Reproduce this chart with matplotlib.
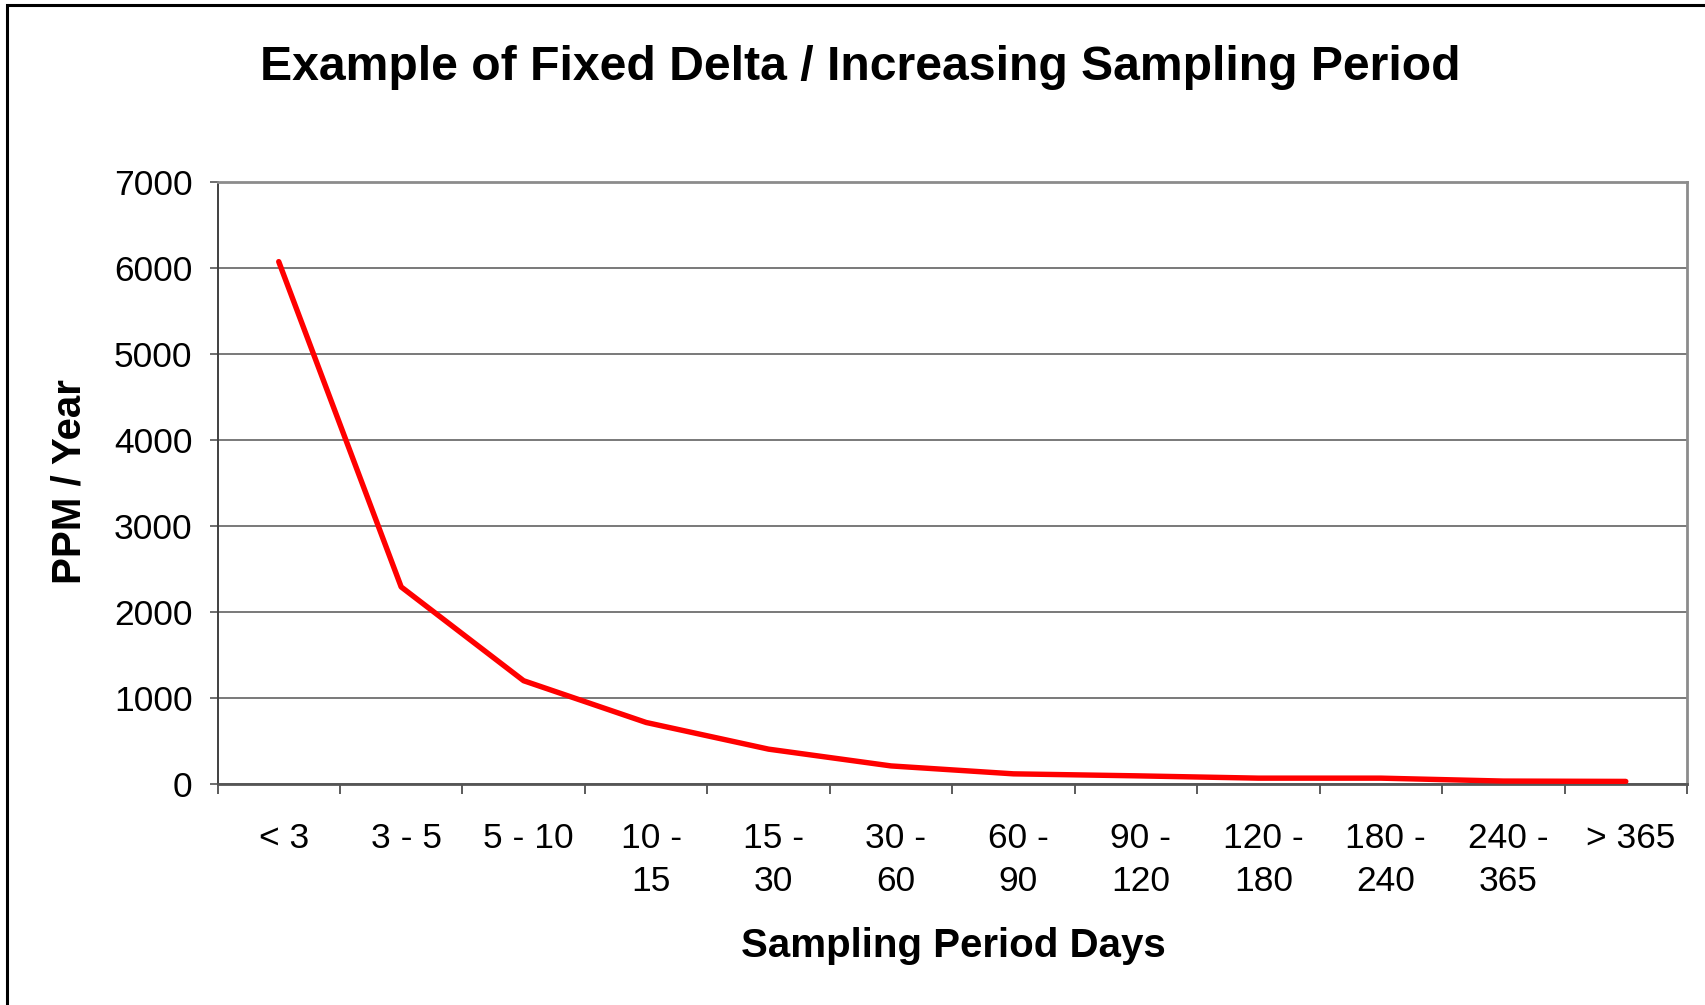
import matplotlib
matplotlib.use("Agg")
import matplotlib.pyplot as plt
import matplotlib.transforms as mtransforms
from matplotlib.patches import Rectangle
import numpy as np

# Sampling period buckets (days) and the resulting PPM/year
categories = ["< 3", "3 - 5", "5 - 10", "10 -\n15", "15 -\n30", "30 -\n60",
              "60 -\n90", "90 -\n120", "120 -\n180", "180 -\n240", "240 -\n365", "> 365"]
ppm_per_year = [6070, 2290, 1200, 715, 405, 210, 118, 95, 68, 68, 34, 30]
y_ticks = [0, 1000, 2000, 3000, 4000, 5000, 6000, 7000]

plt.rcParams['font.family'] = ['Liberation Sans', 'DejaVu Sans']

W, H = 1705, 1005
fig = plt.figure(figsize=(W / 100, H / 100), dpi=100)
fig.patch.set_facecolor("white")

# Outer chart border (runs off the right and bottom edges)
fig.patches.append(Rectangle((7 / W, -0.05), 1.2, 1 - 5 / H + 0.05,
                             transform=fig.transFigure, fill=False,
                             edgecolor="black", linewidth=2.2, clip_on=False))

left, right, top, bottom = 217.5, 1687, 181.6, 784
ax = fig.add_axes([left / W, 1 - bottom / H, (right - left) / W, (bottom - top) / H])

x = np.arange(len(categories))
ax.plot(x, ppm_per_year, color="#FF0000", linewidth=3.9, solid_joinstyle="round",
        solid_capstyle="round", zorder=3)

ax.set_xlim(-0.5, len(categories) - 0.5)
ax.set_ylim(0, 7000)

# Y axis
ax.set_yticks(y_ticks)
ax.set_yticklabels([str(v) for v in y_ticks], fontsize=25.5)
ax.tick_params(axis="y", direction="out", length=6, width=1.2, color="#555555", pad=12)
ax.yaxis.grid(True, color="#555555", linewidth=1.1)
ax.set_axisbelow(True)

# X axis: ticks at bucket boundaries, labels at bucket centers
ax.set_xticks(np.arange(-0.5, len(categories), 1.0))
ax.set_xticklabels([])
ax.set_xticks(x, minor=True)
ax.set_xticklabels(categories, minor=True, fontsize=25.5, linespacing=1.4,
                   multialignment="center", va="top")
ax.tick_params(axis="x", which="major", direction="out", length=7, width=1.2,
               color="#404040")
ax.tick_params(axis="x", which="minor", length=0, pad=27)
shift = mtransforms.ScaledTranslation(5 / 100, 0, fig.dpi_scale_trans)
for lbl in ax.get_xticklabels(minor=True):
    lbl.set_transform(lbl.get_transform() + shift)

for side in ("top", "right"):
    ax.spines[side].set_color("#8c8c8c")
    ax.spines[side].set_linewidth(2.0)
ax.spines["left"].set_color("#404040")
ax.spines["left"].set_linewidth(1.4)
ax.spines["bottom"].set_color("#555555")
ax.spines["bottom"].set_linewidth(2.0)

fig.text(791 * 1.0874 / W, 1 - 67 / H, "Example of Fixed Delta / Increasing Sampling Period",
         ha="center", va="center", fontsize=34.7, fontweight="bold")
fig.text(64 * 1.0874 / W, 1 - 443 * 1.0874 / H, "PPM / Year", rotation=90, ha="center",
         va="center", fontsize=29, fontweight="bold")
fig.text(877 * 1.0874 / W, 1 - 870 * 1.0874 / H, "Sampling Period Days", ha="center",
         va="center", fontsize=29, fontweight="bold")

fig.savefig("out.png", dpi=100, facecolor="white")
